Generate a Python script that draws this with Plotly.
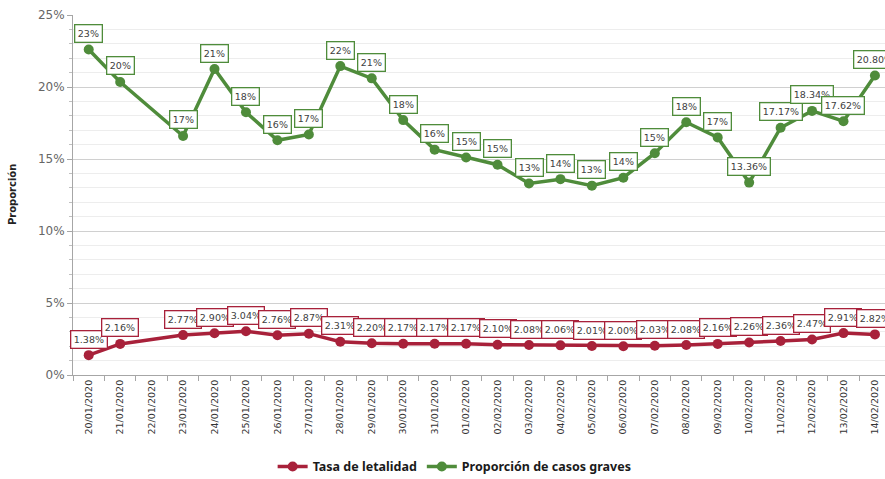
import plotly.graph_objects as go

fechas = ["20/01/2020", "21/01/2020", "22/01/2020", "23/01/2020", "24/01/2020", "25/01/2020",
          "26/01/2020", "27/01/2020", "28/01/2020", "29/01/2020", "30/01/2020", "31/01/2020",
          "01/02/2020", "02/02/2020", "03/02/2020", "04/02/2020", "05/02/2020", "06/02/2020",
          "07/02/2020", "08/02/2020", "09/02/2020", "10/02/2020", "11/02/2020", "12/02/2020",
          "13/02/2020", "14/02/2020"]

letalidad = [1.38, 2.16, None, 2.77, 2.90, 3.04, 2.76, 2.87, 2.31, 2.20, 2.17, 2.17,
             2.17, 2.10, 2.08, 2.06, 2.01, 2.00, 2.03, 2.08, 2.16, 2.26, 2.36, 2.47, 2.91, 2.82]
letalidad_labels = ["1.38%", "2.16%", None, "2.77%", "2.90%", "3.04%", "2.76%", "2.87%", "2.31%",
                    "2.20%", "2.17%", "2.17%", "2.17%", "2.10%", "2.08%", "2.06%", "2.01%", "2.00%",
                    "2.03%", "2.08%", "2.16%", "2.26%", "2.36%", "2.47%", "2.91%", "2.82%"]

graves = [22.6, 20.35, None, 16.6, 21.25, 18.25, 16.3, 16.7, 21.45, 20.6, 17.7, 15.65,
          15.1, 14.6, 13.3, 13.6, 13.15, 13.7, 15.4, 17.55, 16.5, 13.36, 17.17, 18.34, 17.62, 20.80]
graves_labels = ["23%", "20%", None, "17%", "21%", "18%", "16%", "17%", "22%", "21%", "18%", "16%",
                 "15%", "15%", "13%", "14%", "13%", "14%", "15%", "18%", "17%", "13.36%",
                 "17.17%", "18.34%", "17.62%", "20.80%"]

ROJO = "#a8213a"
VERDE = "#4f8c3b"

fig = go.Figure()
fig.add_trace(go.Scatter(x=fechas, y=letalidad, mode="lines+markers", name="<b>Tasa de letalidad</b>",
                         connectgaps=True, line=dict(color=ROJO, width=3.5),
                         marker=dict(color=ROJO, size=10), cliponaxis=False))
fig.add_trace(go.Scatter(x=fechas, y=graves, mode="lines+markers", name="<b>Proporción de casos graves</b>",
                         connectgaps=True, line=dict(color=VERDE, width=3.5),
                         marker=dict(color=VERDE, size=10), cliponaxis=False))

annotations = []
for vals, labs, col in ((letalidad, letalidad_labels, ROJO), (graves, graves_labels, VERDE)):
    for f, v, l in zip(fechas, vals, labs):
        if v is None:
            continue
        annotations.append(dict(x=f, y=v, text=l, showarrow=False, yshift=16,
                                font=dict(family="DejaVu Sans", size=9.5, color="#404040"),
                                bgcolor="white", bordercolor=col, borderwidth=1.3, borderpad=2.5))

annotations.append(dict(xref="paper", yref="paper", x=-0.075, y=0.5, text="<b>Proporción</b>",
                        textangle=-90, showarrow=False, xanchor="center",
                        font=dict(family="DejaVu Sans", size=10, color="#222222")))

fig.update_layout(
    width=885, height=479,
    margin=dict(l=73, r=0, t=15, b=104, autoexpand=False),
    plot_bgcolor="white", paper_bgcolor="white",
    showlegend=True,
    legend=dict(orientation="h", x=0.47, y=-0.255, xanchor="center", yanchor="middle",
                font=dict(family="Noto Sans", size=12.5, color="#1a1a1a"),
                itemwidth=30, traceorder="normal"),
    annotations=annotations,
    xaxis=dict(type="category", range=[-0.5, 25.32], tickangle=-90, automargin=False,
               tickfont=dict(family="DejaVu Sans", size=9.5, color="#333333"),
               ticklabeloverflow="allow",
               showgrid=False, showline=True, linecolor="#a6a6a6", linewidth=1,
               ticks="outside", ticklen=5, tickcolor="#a6a6a6", tickson="boundaries"),
    yaxis=dict(range=[0, 25], tickvals=[0, 5, 10, 15, 20, 25], automargin=False,
               ticktext=["0%", "5%", "10%", "15%", "20%", "25%"],
               tickfont=dict(family="DejaVu Sans", size=12, color="#666666"),
               showgrid=True, gridcolor="#d0d0d0", gridwidth=1,
               showline=True, linecolor="#a6a6a6", linewidth=1,
               ticks="outside", ticklen=5, tickcolor="#a6a6a6", zeroline=False,
               minor=dict(dtick=1, showgrid=True, gridcolor="#ededed", gridwidth=1,
                          ticks="outside", ticklen=3, tickcolor="#c0c0c0")),
)

fig.write_html("out.html", config={"displayModeBar": False},
               post_script="document.body.style.margin='0';document.body.style.overflow='hidden';")
